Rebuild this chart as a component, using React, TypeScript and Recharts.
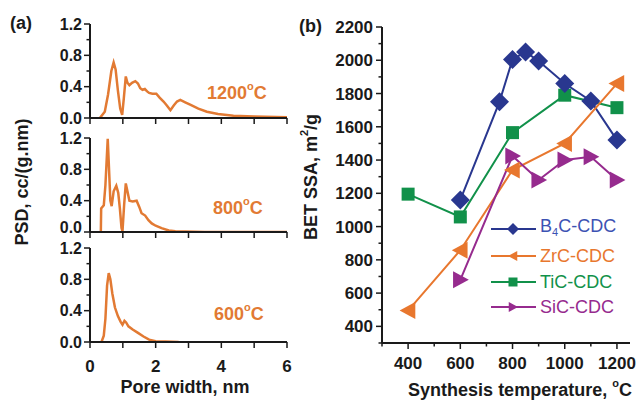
import React from 'react';
import { LineChart, Line, XAxis, YAxis, Legend } from 'recharts';

// ---------- Panel (a): pore size distributions ----------
const poreWidth1200 = [0.3, 0.45, 0.55, 0.65, 0.72, 0.78, 0.85, 0.92, 0.98, 1.03, 1.09, 1.14, 1.2, 1.28, 1.38, 1.46, 1.53, 1.6, 1.67, 1.74, 1.8, 1.9, 2.02, 2.12, 2.24, 2.34, 2.45, 2.55, 2.65, 2.75, 2.9, 3.05, 3.3, 3.56, 3.9, 4.37, 5.0, 6.0];
const psd1200 = [0.0, 0.08, 0.3, 0.6, 0.71, 0.62, 0.35, 0.12, 0.04, 0.25, 0.53, 0.45, 0.42, 0.45, 0.47, 0.44, 0.38, 0.36, 0.37, 0.34, 0.32, 0.31, 0.31, 0.26, 0.21, 0.16, 0.1, 0.16, 0.21, 0.23, 0.2, 0.17, 0.12, 0.08, 0.05, 0.03, 0.02, 0.01];

const poreWidth800 = [0.33, 0.34, 0.42, 0.47, 0.54, 0.58, 0.62, 0.66, 0.72, 0.8, 0.86, 0.91, 0.96, 0.99, 1.04, 1.09, 1.14, 1.2, 1.3, 1.42, 1.5, 1.57, 1.68, 1.78, 1.88, 2.0, 2.18, 2.4, 2.6, 3.5, 6.0];
const psd800 = [0.0, 0.3, 0.34, 0.6, 1.19, 0.8, 0.4, 0.33, 0.52, 0.59, 0.5, 0.3, 0.05, 0.01, 0.35, 0.62, 0.52, 0.4, 0.39, 0.4, 0.32, 0.24, 0.21, 0.15, 0.11, 0.08, 0.05, 0.02, 0.01, 0.0, 0.0];

const poreWidth600 = [0.35, 0.42, 0.47, 0.52, 0.57, 0.62, 0.68, 0.76, 0.85, 0.93, 0.99, 1.05, 1.1, 1.17, 1.3, 1.45, 1.63, 1.8, 2.0, 2.3, 2.7];
const psd600 = [0.0, 0.08, 0.3, 0.72, 0.88, 0.8, 0.62, 0.44, 0.33, 0.26, 0.22, 0.27, 0.25, 0.2, 0.16, 0.12, 0.07, 0.03, 0.01, 0.005, 0.0];

const psdTicks = [0, 0.2, 0.4, 0.6, 0.8, 1.0, 1.2];
const poreTicks = [0, 1, 2, 3, 4, 5, 6];
const panelATemps = ['1200', '800', '600'];

// ---------- Panel (b): BET SSA vs synthesis temperature ----------
const b4cTemp = [600, 750, 800, 850, 900, 1000, 1100, 1200];
const b4cSSA = [1160, 1750, 2005, 2050, 1995, 1860, 1755, 1520];
const zrcTemp = [400, 600, 800, 1000, 1200];
const zrcSSA = [495, 858, 1340, 1500, 1860];
const ticTemp = [400, 600, 800, 1000, 1200];
const ticSSA = [1195, 1058, 1565, 1790, 1715];
const sicTemp = [600, 800, 900, 1000, 1100, 1200];
const sicSSA = [680, 1425, 1280, 1400, 1420, 1280];

const tempTicks = [300, 400, 500, 600, 700, 800, 900, 1000, 1100, 1200];
const ssaTicks = [300, 400, 500, 600, 700, 800, 900, 1000, 1100, 1200, 1300, 1400, 1500, 1600, 1700, 1800, 1900, 2000, 2100, 2200];

const FONT = '"Liberation Sans", Arial, Helvetica, sans-serif';
const ORANGE_PSD = '#e27a33';
const C_B4C = '#29378f';
const C_ZRC = '#e8772e';
const C_TIC = '#11914a';
const C_SIC = '#962b8e';
const AXIS = '#1a1a1a';

const zip = (xs: number[], ys: number[]) => xs.map((x, i) => ({ x, y: ys[i] }));

// nudge: vertical label shift for the 0.0 and 1.2 labels where stacked panels meet
const makePsdYTick = (nudgeBottom: number, nudgeTop: number) => (props: any) => {
  const { x, y, payload } = props;
  const v = payload.value as number;
  const major = Math.round(v * 10) % 4 === 0;
  const shift = v === 0 ? nudgeBottom : Math.abs(v - 1.2) < 1e-6 ? nudgeTop : 0;
  return (
    <g>
      <line x1={x} x2={x - (major ? 6 : 3.5)} y1={y} y2={y} stroke={AXIS} strokeWidth={1.5} />
      {major && (
        <text x={x - 8} y={y + shift} dy="0.35em" textAnchor="end" fontFamily={FONT} fontWeight="bold" fontSize={16} fill={AXIS}>
          {v.toFixed(1)}
        </text>
      )}
    </g>
  );
};

const makePoreXTick = (showLabels: boolean) => (props: any) => {
  const { x, y, payload } = props;
  const v = payload.value as number;
  return (
    <g>
      <line x1={x} x2={x} y1={y} y2={y + 6} stroke={AXIS} strokeWidth={1.5} />
      {showLabels && v % 2 === 0 && (
        <text x={x} y={y + 24} dy="0.36em" textAnchor="middle" fontFamily={FONT} fontWeight="bold" fontSize={17} fill={AXIS}>
          {v}
        </text>
      )}
    </g>
  );
};

const SsaYTick = (props: any) => {
  const { x, y, payload } = props;
  const v = payload.value as number;
  const major = v % 200 === 0;
  return (
    <g>
      <line x1={x} x2={x - (major ? 6 : 3.5)} y1={y} y2={y} stroke={AXIS} strokeWidth={1.5} />
      {major && (
        <text x={x - 9} y={y} dy="0.36em" textAnchor="end" fontFamily={FONT} fontWeight="bold" fontSize={17} fill={AXIS}>
          {v}
        </text>
      )}
    </g>
  );
};

const TempXTick = (props: any) => {
  const { x, y, payload } = props;
  const v = payload.value as number;
  const major = v % 200 === 0;
  return (
    <g>
      <line x1={x} x2={x} y1={y} y2={y + (major ? 6 : 3.5)} stroke={AXIS} strokeWidth={1.5} />
      {major && (
        <text x={x} y={y + 20} dy="0.36em" textAnchor="middle" fontFamily={FONT} fontWeight="bold" fontSize={17} fill={AXIS}>
          {v}
        </text>
      )}
    </g>
  );
};

const shapePath = (kind: string, cx: number, cy: number, s: number) => {
  switch (kind) {
    case 'diamond':
      return `M${cx},${cy - s}L${cx + s},${cy}L${cx},${cy + s}L${cx - s},${cy}Z`;
    case 'left':
      return `M${cx - s},${cy}L${cx + s * 0.85},${cy - s}L${cx + s * 0.85},${cy + s}Z`;
    case 'right':
      return `M${cx + s},${cy}L${cx - s * 0.85},${cy - s}L${cx - s * 0.85},${cy + s}Z`;
    default:
      return `M${cx - s},${cy - s}H${cx + s}V${cy + s}H${cx - s}Z`;
  }
};

const makeDot = (kind: string, color: string, size: number) => (props: any) => {
  const { cx, cy, index } = props;
  if (cx == null || cy == null) return <g key={`d-${index}`} />;
  return <path key={`d-${kind}-${index}`} d={shapePath(kind, cx, cy, size)} fill={color} stroke="none" />;
};

const legendItems = [
  { name: 'B4C', color: C_B4C, text: '#3c52b3', kind: 'diamond', size: 6 },
  { name: 'ZrC-CDC', color: C_ZRC, text: C_ZRC, kind: 'left', size: 5 },
  { name: 'TiC-CDC', color: C_TIC, text: C_TIC, kind: 'square', size: 4.5 },
  { name: 'SiC-CDC', color: C_SIC, text: C_SIC, kind: 'right', size: 5 },
];

const LegendContent = () => (
  <div style={{ fontFamily: FONT }}>
    {legendItems.map((it, i) => (
      <div key={it.name} style={{ display: 'flex', alignItems: 'center', height: [29, 26, 25, 25][i] }}>
        <svg width={50} height={20} style={{ display: 'block' }}>
          <line x1={2} x2={47} y1={10} y2={10} stroke={it.color} strokeWidth={2} />
          <path d={shapePath(it.kind, 24, 10, it.size)} fill={it.color} />
        </svg>
        <span style={{ color: it.text, fontSize: 18, marginLeft: 1, lineHeight: '20px' }}>
          {it.name === 'B4C' ? (
            <>
              B<sub style={{ fontSize: 11, verticalAlign: -4 }}>4</sub>C-CDC
            </>
          ) : (
            it.name
          )}
        </span>
      </div>
    ))}
  </div>
);

const W = 639;
const H = 400;
const YW = 40; // y-axis band width (space left of the plot)
const XH = 30; // x-axis band height (space below the plot)

const psdPanels = [
  { top: 24, bottom: 118, data: zip(poreWidth1200, psd1200), label: panelATemps[0], labelY: 94, labelX: 207, nb: 0, nt: 0 },
  { top: 138, bottom: 232, data: zip(poreWidth800, psd800), label: panelATemps[1], labelY: 209, labelX: 213, nb: -5, nt: 0 },
  { top: 248, bottom: 342, data: zip(poreWidth600, psd600), label: panelATemps[2], labelY: 315, labelX: 214, nb: 0, nt: 0 },
];

const layer: React.CSSProperties = { position: 'absolute', left: 0, top: 0 };

export default function App() {
  return (
    <div style={{ position: 'absolute', left: 0, top: 0, width: W, height: H, background: '#fff', fontFamily: FONT }}>
      {psdPanels.map((p, i) => (
        <div key={i} style={layer}>
          <LineChart width={W} height={H} margin={{ top: p.top, left: 90 - YW, right: W - 287, bottom: H - p.bottom - XH }}>
            <XAxis
              type="number"
              dataKey="x"
              domain={[0, 6]}
              ticks={poreTicks}
              height={XH}
              tickSize={0}
              tickMargin={0}
              tickLine={false}
              axisLine={{ stroke: AXIS, strokeWidth: 2 }}
              tick={makePoreXTick(i === 2)}
              interval={0}
              allowDataOverflow
            />
            <YAxis
              type="number"
              domain={[0, 1.2]}
              ticks={psdTicks}
              width={YW}
              tickSize={0}
              tickMargin={0}
              tickLine={false}
              axisLine={{ stroke: AXIS, strokeWidth: 2 }}
              tick={makePsdYTick(p.nb, p.nt)}
              interval={0}
              allowDataOverflow
            />
            <Line data={p.data} dataKey="y" type="linear" stroke={ORANGE_PSD} strokeWidth={2.5} dot={false} isAnimationActive={false} />
          </LineChart>
        </div>
      ))}

      <div style={layer}>
        <LineChart width={W} height={H} margin={{ top: 27, left: 382 - YW, right: W - 630, bottom: H - 343 - XH }}>
          <XAxis
            type="number"
            dataKey="t"
            domain={[300, 1250]}
            ticks={tempTicks}
            height={XH}
            tickSize={0}
            tickMargin={0}
            tickLine={false}
            axisLine={{ stroke: AXIS, strokeWidth: 2 }}
            tick={TempXTick}
            interval={0}
            allowDataOverflow
          />
          <YAxis
            type="number"
            domain={[300, 2200]}
            ticks={ssaTicks}
            width={YW}
            tickSize={0}
            tickMargin={0}
            tickLine={false}
            axisLine={{ stroke: AXIS, strokeWidth: 2 }}
            tick={SsaYTick}
            interval={0}
            allowDataOverflow
          />
          <Line data={ticTemp.map((t, i) => ({ t, v: ticSSA[i] }))} dataKey="v" name="TiC-CDC" stroke={C_TIC} strokeWidth={2} dot={makeDot('square', C_TIC, 6.5)} isAnimationActive={false} />
          <Line data={b4cTemp.map((t, i) => ({ t, v: b4cSSA[i] }))} dataKey="v" name="B4C-CDC" stroke={C_B4C} strokeWidth={2} dot={makeDot('diamond', C_B4C, 9.5)} isAnimationActive={false} />
          <Line data={zrcTemp.map((t, i) => ({ t, v: zrcSSA[i] }))} dataKey="v" name="ZrC-CDC" stroke={C_ZRC} strokeWidth={2} dot={makeDot('left', C_ZRC, 8.5)} isAnimationActive={false} />
          <Line data={sicTemp.map((t, i) => ({ t, v: sicSSA[i] }))} dataKey="v" name="SiC-CDC" stroke={C_SIC} strokeWidth={2} dot={makeDot('right', C_SIC, 8.5)} isAnimationActive={false} />
          <Legend
            layout="vertical"
            align="center"
            verticalAlign="middle"
            content={LegendContent}
            wrapperStyle={{ position: 'absolute', left: 489, top: 214, width: 150, height: 110 }}
          />
        </LineChart>
      </div>

      <svg width={W} height={H} style={{ ...layer, pointerEvents: 'none' }}>
        <g fontFamily={FONT} fontWeight="bold">
          <text x={10} y={29} fontSize={18} fill={AXIS}>(a)</text>
          <text x={299} y={32} fontSize={18} fill={AXIS}>(b)</text>
          {psdPanels.map((p, i) => (
            <text key={i} x={p.labelX} y={p.labelY} fontSize={18} fill={ORANGE_PSD} dominantBaseline="middle">
              {p.label}
              <tspan dy={-7} fontSize={11}>o</tspan>
              <tspan dy={7}>C</tspan>
            </text>
          ))}
          <text x={185} y={388} fontSize={18} textAnchor="middle" dominantBaseline="middle" fill={AXIS}>Pore width, nm</text>
          <text transform="translate(23,182) rotate(-90)" fontSize={18} textAnchor="middle" dominantBaseline="middle" fill={AXIS}>
            PSD, cc/(g.nm)
          </text>
          <text x={520} y={391} fontSize={18} textAnchor="middle" dominantBaseline="middle" fill={AXIS}>
            Synthesis temperature, <tspan dy={-7} fontSize={11}>o</tspan><tspan dy={7}>C</tspan>
          </text>
          <text transform="translate(312,177) rotate(-90)" fontSize={18} textAnchor="middle" dominantBaseline="middle" fill={AXIS}>
            BET SSA, m<tspan dy={-7} fontSize={11}>2</tspan><tspan dy={7}>/g</tspan>
          </text>
        </g>
      </svg>
    </div>
  );
}
